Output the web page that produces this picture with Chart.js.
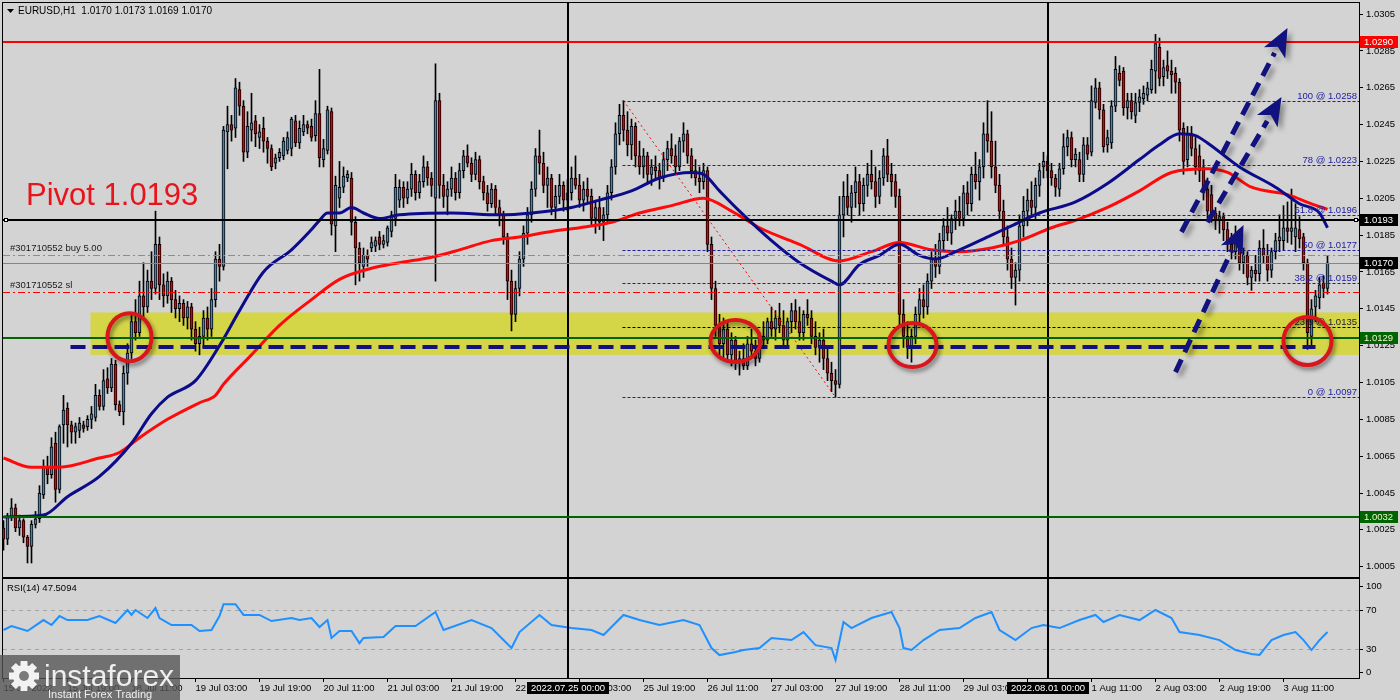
<!DOCTYPE html>
<html>
<head>
<meta charset="utf-8">
<title>EURUSD H1</title>
<script src="https://cdn.jsdelivr.net/npm/chart.js@4.4.0/dist/chart.umd.min.js"></script>
<style>
html, body { margin: 0; padding: 0; background: #d3d3d3; }
#wrap { position: relative; width: 1400px; height: 700px; overflow: hidden; }
#main { position: absolute; left: 0; top: 0; }
#rsi { position: absolute; left: 0; top: 570px; }
</style>
</head>
<body>
<div id="wrap">
  <canvas id="main" width="1400" height="578"></canvas>
  <canvas id="rsi" width="1400" height="130"></canvas>
</div>
<script>
// prices are in pips above 1.0000 (e.g. 170 = 1.0170), one candle per hour from 15 Jul 03:00
var OPEN = [
  26,20,32,37,26,30,21,16,28,31, 44,59,55,72,47,82,91,82,78,79,
  82,81,85,86,98,92,107,102,115,93, 89,110,121,138,132,152,146,160,156,180,
  158,152,160,150,145,148,140,146,134,126, 130,140,134,150,172,168,241,245,243,264,
  255,230,242,247,238,243,236,232,224,227, 228,231,232,247,235,241,245,244,239,251,
  226,231,252,190,205,211,216,216,192,178, 168,174,178,179,184,180,181,187,194,204,
  211,205,210,218,208,214,222,216,205,258, 212,206,210,216,208,220,228,224,218,226,
  214,208,202,210,200,196,184,160,142,156, 172,186,196,210,228,224,212,216,200,206,
  212,204,208,216,212,204,210,206,194,200, 192,196,208,222,240,250,242,234,244,228,
  222,228,218,222,220,216,226,232,228,222, 236,240,228,220,216,214,220,180,156,136,
  126,134,120,128,116,118,114,126,122,118, 130,128,138,134,140,136,128,138,144,138,
  132,142,140,130,124,128,118,110,106,104, 196,206,200,208,214,202,212,218,214,206,
  216,228,218,214,206,142,130,124,130,142, 150,146,160,172,168,182,190,186,194,198,
  194,208,202,218,214,222,240,236,222,212, 198,184,172,162,166,190,198,204,200,212,
  222,225,220,216,210,221,233,238,226,226, 218,234,230,257,265,253,234,235,255,273,
  274,254,258,250,257,259,261,264,274,287, 271,277,274,273,268,243,226,240,232,228,
  222,210,207,197,193,195,188,180,176,184, 170,174,162,166,164,178,174,166,176,182,
  182,189,187,184,188,184,170,130,146,151, 159,156
];
var HIGH = [
  30,34,42,39,33,31,22,30,35,49, 63,65,75,78,82,98,94,84,83,86,
  84,87,92,104,101,112,113,118,117,95, 114,126,142,150,160,170,166,176,198,184,
  164,165,162,155,152,150,149,148,138,135, 144,146,156,176,180,244,255,250,270,268,
  258,252,262,250,245,249,238,234,229,232, 238,241,249,250,247,250,247,248,258,275,
  237,255,254,217,225,222,220,219,195,181, 178,177,184,184,187,185,190,198,218,215,
  214,214,224,220,218,228,225,219,278,262, 218,214,222,219,224,231,234,227,230,228,
  217,212,213,212,204,198,186,166,160,176, 190,200,214,232,242,230,222,218,212,218,
  214,215,222,228,218,214,216,210,204,206, 200,212,226,246,256,258,252,248,246,236,
  232,230,226,228,224,230,236,240,234,238, 246,242,232,226,222,224,222,184,160,142,
  140,138,132,130,122,126,130,134,128,132, 138,140,146,144,148,144,140,148,150,146,
  144,150,144,138,132,134,124,116,112,206, 214,218,212,222,218,216,224,231,222,220,
  232,237,224,218,210,150,138,134,146,156, 158,164,176,180,186,194,200,196,204,206,
  212,214,222,230,226,246,258,252,236,218, 204,190,178,170,196,206,210,214,216,224,
  230,228,224,218,224,240,242,241,232,230, 238,238,266,270,268,256,242,258,282,277,
  276,262,262,262,264,266,268,280,294,292, 280,285,280,276,270,246,244,244,238,234,
  226,216,212,200,198,197,192,186,190,188, 178,176,168,174,182,188,180,178,186,196,
  201,203,210,202,195,186,172,150,155,162, 163,174
];
var LOW = [
  14,17,30,24,22,18,7,7,26,29, 42,50,53,40,45,72,70,72,72,75,
  78,79,80,84,90,90,99,100,90,87, 82,104,118,128,130,140,143,150,153,150,
  146,148,143,140,138,136,134,128,122,120, 124,128,130,146,160,166,221,236,238,250,
  225,227,236,233,232,230,224,220,221,225, 226,229,228,233,232,239,240,236,236,222,
  222,229,185,176,200,208,214,185,158,160, 162,168,176,176,177,178,179,184,190,200,
  200,202,206,204,205,211,212,206,160,205, 200,196,206,204,205,216,222,214,215,210,
  204,198,200,196,190,180,150,133,138,152, 168,180,192,206,218,208,200,196,194,202,
  198,198,204,210,200,198,202,190,186,188, 182,192,204,218,234,236,228,226,222,218,
  216,214,212,216,210,214,220,224,218,220, 230,224,216,212,208,210,176,150,130,120,
  118,116,114,112,109,112,112,118,114,116, 124,126,130,128,132,124,124,132,134,128,
  128,136,126,120,116,112,106,100,97,102, 184,196,192,200,196,198,206,210,200,202,
  212,214,206,200,136,124,118,116,126,136, 140,142,156,162,164,176,182,180,188,190,
  190,196,198,210,204,216,230,216,208,194, 180,166,156,147,160,184,190,196,194,206,
  216,216,212,206,206,218,228,222,222,214, 214,226,228,254,248,230,230,232,252,266,
  250,248,248,246,252,256,258,262,262,266, 266,270,262,262,236,218,222,228,218,214,
  204,194,192,188,186,182,176,172,172,166, 164,158,155,160,160,170,160,162,172,176,
  177,181,180,176,178,166,123,124,138,145, 151,153
];
var CLOSE = [
  20,32,37,26,30,21,16,28,31,45, 59,55,70,47,81,90,82,78,81,83,
  80,85,88,98,92,106,102,115,93,89, 110,121,138,132,152,146,160,156,180,158,
  152,160,150,145,148,140,146,134,126,130, 140,134,150,172,168,242,245,242,265,255,
  230,244,246,240,241,236,232,222,227,230, 236,238,248,235,243,245,243,238,251,227,
  232,253,191,212,211,217,218,192,178,170, 174,172,181,182,180,182,189,196,211,211,
  205,210,218,208,214,222,216,212,258,212, 206,210,216,208,220,228,224,218,226,214,
  208,202,210,200,196,184,160,142,156,172, 186,196,210,228,224,212,216,200,206,212,
  204,208,216,212,204,210,206,194,200,192, 196,208,222,240,250,242,234,244,228,222,
  228,218,222,220,216,226,232,228,222,236, 240,228,220,216,214,220,180,156,136,126,
  134,120,128,116,118,114,126,122,118,130, 128,138,134,140,136,128,138,144,138,132,
  142,140,130,124,128,118,110,106,104,196, 206,200,208,214,202,212,218,214,206,216,
  228,218,214,206,142,130,124,130,142,150, 146,160,172,168,182,190,186,194,198,194,
  208,202,218,214,222,240,236,222,212,198, 184,172,162,166,190,198,204,200,212,220,
  225,220,216,211,221,233,238,226,229,218, 234,229,258,265,253,233,238,255,275,269,
  254,258,252,257,260,262,265,275,289,270, 276,274,272,268,242,225,240,232,222,220,
  208,198,197,193,195,188,180,176,184,170, 174,162,166,164,178,174,166,176,182,184,
  189,187,189,189,183,170,132,145,152,158, 156,170
];

// moving averages (bar index, pips)
var BLUE_X = [0,10,16,24,32,37,41,48,54,59,65,72,77,79,81,84,87,90,94,99,112,124,132,142,149,157,164,172,175,179,184,192,199,207,209,214,219,224,229,233,239,247,252,259,268,276,284,289,294,298,301,309,318,324,329,331];
var BLUE_Y = [32,33,43,54,72,88,97,106,125,144,165,177,188,193,197,197,200,197,194,196,197,196,197,200,204,209,216,219,218,209,198,182,170,160,158,169,174,180,174,172,177,185,190,197,203,213,226,234,240,239,235,222,211,202,197,189];
var RED_X = [0,7,14,24,29,34,41,49,53,55,62,69,77,84,92,99,107,114,122,129,137,144,152,159,167,175,182,189,199,209,217,224,232,239,247,254,262,268,276,284,292,301,306,312,321,327,331];
var RED_Y = [64,59,59,64,67,75,85,94,98,104,120,136,150,161,167,170,173,177,182,184,187,189,192,197,201,205,198,189,180,171,176,181,177,176,178,182,189,193,200,209,219,221,219,211,207,202,199];

// RSI(14)
var RSI_X = [0,2,6,10,12,14,16,21,24,28,31,32,33,36,38,39,42,47,49,52,54,55,58,60,64,67,72,74,77,79,81,82,84,87,89,90,95,98,103,108,110,117,122,125,127,129,134,137,142,147,150,155,159,164,170,174,177,179,183,185,189,192,197,200,203,207,208,210,212,217,222,224,225,227,230,234,239,243,247,249,253,257,260,264,269,273,275,279,284,288,292,294,299,304,308,312,314,317,320,323,325,327,329,331];
var RSI_V = [49.5,53.6,48.5,59.7,54.6,63.8,59.7,59.7,63.8,56.7,70,64.9,70,61.8,72,61.8,54.6,54.6,48.5,49.5,63.8,76,76,65,65,58.7,61.8,59.7,61.8,52.6,59.7,41.3,48.5,48.5,36,41.3,42.3,53.6,53.6,68,49.5,59.7,51.5,39.2,31,47.4,64.9,54.6,51.5,49.5,44.4,64.9,59.7,54.6,59.7,54.6,31,23.8,27,29,31,41.3,39.2,47.4,34,31,18.7,57.7,51.5,61.8,68,51.5,31,29,39.2,49.5,51.5,61.8,68,49.5,39.2,51.5,54.6,51.5,59.7,64.9,57.7,64.9,59.7,70,61.8,47.4,44.4,39.2,29,25,24,39.2,44.4,47.4,39.2,29,39.2,47.5];
var RSI_LAST = '47.5094';

// axis ticks
var PRICE_TICKS = [5,25,45,65,85,105,125,145,165,185,205,225,245,265,285,305];
var TIME_TICK_POS = [0,16,32,48,64,80,96,112,128,144,160,176,192,208,224,240,256,272,288,304,320];
var TIME_TICK_LABELS = ['15 Jul 2022','15 Jul 19:00','18 Jul 11:00','19 Jul 03:00','19 Jul 19:00','20 Jul 11:00','21 Jul 03:00','21 Jul 19:00','22 Jul 11:00','25 Jul 03:00','25 Jul 19:00','26 Jul 11:00','27 Jul 03:00','27 Jul 19:00','28 Jul 11:00','29 Jul 03:00','29 Jul 19:00','1 Aug 11:00','2 Aug 03:00','2 Aug 19:00','3 Aug 11:00'];
var RSI_TICKS = [0,30,70,100];

// chart objects
var VLINE_POS = [141, 261];
var VLINE_LABELS = ['2022.07.25 00:00', '2022.08.01 00:00'];
var FIB_NAMES = ['100','78','61.8','50','38.2','23.6','0'];
var FIB_PRICES = [258,223,196,177,159,135,97];
var FIB_START = 154.75;
var FIB_DIAG = [[155,258],[208,97]];
var BAND = [120, 143];
var BAND_START = 21.75;
var SUPPORT_LINE = [124, 16.75, 328];
var CIRCLES = [[31.5,129.6],[183,127.5],[227.25,125.3],[326,127.5]];
var ARROWS = [[293,110.6,310,190.5],[301,192,319.5,260],[294.5,186.7,321,297.4]];
var BUY_LEVEL = 174.2;
var SL_LEVEL = 154.1;
var LAST_PRICE = 170;
var PIVOT = 193;
var RES_LEVEL = 290;
var SUP_LEVELS = [129, 32];

var FONT = 'Liberation Sans';
Chart.defaults.font.family = FONT;
Chart.defaults.font.size = 9.5;
Chart.defaults.color = '#000';

function px(v) { return (1 + v / 10000).toFixed(4); }

function hline(ctx, y, x0, x1, color, w, dash) {
  ctx.save();
  ctx.strokeStyle = color;
  ctx.lineWidth = w;
  ctx.setLineDash(dash || []);
  var yy = w % 2 ? Math.round(y) + 0.5 : Math.round(y);
  ctx.beginPath(); ctx.moveTo(x0, yy); ctx.lineTo(x1, yy); ctx.stroke();
  ctx.restore();
}

function tag(ctx, y, bg, fg, text) {
  ctx.fillStyle = bg;
  ctx.fillRect(1360, Math.round(y) - 6, 38, 12);
  ctx.fillStyle = fg;
  ctx.font = '9.5px ' + FONT;
  ctx.textAlign = 'left';
  ctx.textBaseline = 'middle';
  ctx.fillText(text, 1364, Math.round(y) + 0.5);
}

var mainPlugin = {
  id: 'mainDeco',
  beforeDatasetsDraw: function (chart) {
    var ctx = chart.ctx, a = chart.chartArea, x = chart.scales.x, y = chart.scales.y;
    ctx.save();
    ctx.fillStyle = '#d5d548';
    var xs = x.getPixelForValue(BAND_START);
    var yt = y.getPixelForValue(BAND[1]), yb = y.getPixelForValue(BAND[0]);
    ctx.fillRect(xs, yt, a.right - xs, yb - yt);
    ctx.restore();
  },
  afterDatasetsDraw: function (chart) {
    var ctx = chart.ctx, a = chart.chartArea, x = chart.scales.x, y = chart.scales.y;
    var X = function (v) { return x.getPixelForValue(v); };
    var Y = function (v) { return y.getPixelForValue(v); };

    // vertical separators
    ctx.save();
    ctx.fillStyle = '#000';
    VLINE_POS.forEach(function (p) { ctx.fillRect(Math.round(X(p)) - 1, a.top, 2, a.bottom - a.top); });
    ctx.restore();

    // horizontal levels
    hline(ctx, Y(RES_LEVEL), a.left, a.right, '#ff0000', 2);
    hline(ctx, Y(PIVOT), a.left, a.right, '#000000', 2);
    hline(ctx, Y(BUY_LEVEL), a.left, a.right, '#32cd32', 1, [7, 3, 2, 3]);
    hline(ctx, Y(LAST_PRICE), a.left, a.right, '#778899', 1);
    hline(ctx, Y(SL_LEVEL), a.left, a.right, '#ff0000', 1, [7, 3, 2, 3]);
    SUP_LEVELS.forEach(function (s) { hline(ctx, Y(s), a.left, a.right, '#006400', 2); });

    // fibonacci
    var fx = X(FIB_START);
    ctx.save();
    ctx.strokeStyle = '#ff0000'; ctx.lineWidth = 1; ctx.setLineDash([2, 3]);
    ctx.beginPath(); ctx.moveTo(X(FIB_DIAG[0][0]), Y(FIB_DIAG[0][1])); ctx.lineTo(X(FIB_DIAG[1][0]), Y(FIB_DIAG[1][1])); ctx.stroke();
    ctx.restore();
    FIB_PRICES.forEach(function (p, j) {
      var c = FIB_NAMES[j] === '23.6' ? '#000000' : '#1c1ca0';
      hline(ctx, Y(p), fx, a.right, c, 1, [3, 2]);
    });
    ctx.save();
    ctx.font = '9.5px ' + FONT; ctx.textAlign = 'right'; ctx.textBaseline = 'alphabetic';
    FIB_PRICES.forEach(function (p, j) {
      ctx.fillStyle = FIB_NAMES[j] === '23.6' ? '#222' : '#1c1ca0';
      ctx.fillText(FIB_NAMES[j] + ' @ ' + px(p), a.right - 2, Math.round(Y(p)) - 2);
    });
    ctx.restore();

    // dashed support line
    hline(ctx, Y(SUPPORT_LINE[0]), X(SUPPORT_LINE[1]), X(SUPPORT_LINE[2]), '#10107e', 4, [15, 7]);

    // circles
    ctx.save();
    ctx.shadowColor = 'rgba(0,0,0,0.45)'; ctx.shadowBlur = 4; ctx.shadowOffsetX = 2; ctx.shadowOffsetY = 3;
    ctx.strokeStyle = '#d8161b'; ctx.lineWidth = 4;
    var radii = [[22, 24], [25, 21], [24, 22], [24, 24]];
    CIRCLES.forEach(function (c, j) {
      ctx.beginPath();
      ctx.ellipse(X(c[0]), Y(c[1]), radii[j][0], radii[j][1], 0, 0, Math.PI * 2);
      ctx.stroke();
    });
    ctx.restore();

    // arrows
    ctx.save();
    ctx.shadowColor = 'rgba(0,0,0,0.35)'; ctx.shadowBlur = 5; ctx.shadowOffsetX = 4; ctx.shadowOffsetY = 4;
    ctx.strokeStyle = '#12127e'; ctx.fillStyle = '#12127e'; ctx.lineWidth = 5;
    ARROWS.forEach(function (ar) {
      var x0 = X(ar[0]), y0 = Y(ar[1]), x1 = X(ar[2]), y1 = Y(ar[3]);
      var ang = Math.atan2(y1 - y0, x1 - x0);
      var hl = 28, hw = 12;
      var bx = x1 - hl * Math.cos(ang), by = y1 - hl * Math.sin(ang);
      ctx.setLineDash([14, 8]);
      ctx.beginPath(); ctx.moveTo(x0, y0); ctx.lineTo(bx, by); ctx.stroke();
      ctx.setLineDash([]);
      ctx.beginPath();
      ctx.moveTo(x1, y1);
      ctx.lineTo(bx + hw * Math.sin(ang), by - hw * Math.cos(ang));
      ctx.lineTo(bx + 7 * Math.cos(ang), by + 7 * Math.sin(ang));
      ctx.lineTo(bx - hw * Math.sin(ang), by + hw * Math.cos(ang));
      ctx.closePath(); ctx.fill();
    });
    ctx.restore();

    // texts
    ctx.save();
    ctx.fillStyle = '#e8141b'; ctx.font = '31px ' + FONT; ctx.textBaseline = 'middle'; ctx.textAlign = 'left';
    ctx.fillText('Pivot ' + px(PIVOT), 26, 196);
    ctx.fillStyle = '#1a1a1a'; ctx.font = '9.5px ' + FONT; ctx.textBaseline = 'alphabetic';
    ctx.fillText('#301710552 buy 5.00', 10, Math.round(Y(BUY_LEVEL)) - 4);
    ctx.fillText('#301710552 sl', 10, Math.round(Y(SL_LEVEL)) - 4);
    ctx.restore();

    // pivot end squares
    ctx.save();
    var py = Math.round(Y(PIVOT));
    [a.left + 1, a.right - 5].forEach(function (sx) {
      ctx.fillStyle = '#fff'; ctx.fillRect(sx, py - 2, 4, 4);
      ctx.strokeStyle = '#000'; ctx.lineWidth = 1; ctx.strokeRect(sx + 0.5, py - 1.5, 3, 3);
    });
    ctx.restore();
  },
  afterDraw: function (chart) {
    var ctx = chart.ctx, a = chart.chartArea, y = chart.scales.y;
    ctx.save();
    tag(ctx, y.getPixelForValue(RES_LEVEL), '#ff0000', '#ffffff', px(RES_LEVEL));
    tag(ctx, y.getPixelForValue(PIVOT), '#000000', '#ffffff', px(PIVOT));
    tag(ctx, y.getPixelForValue(LAST_PRICE), '#000000', '#ffffff', px(LAST_PRICE));
    SUP_LEVELS.forEach(function (s) { tag(ctx, y.getPixelForValue(s), '#006400', '#f4f4d0', px(s)); });
    // frame
    ctx.strokeStyle = '#000'; ctx.lineWidth = 1;
    ctx.strokeRect(a.left - 0.5, a.top - 0.5, a.right - a.left + 1, a.bottom - a.top + 1);
    // header
    ctx.fillStyle = '#000';
    ctx.beginPath(); ctx.moveTo(7, 9); ctx.lineTo(14, 9); ctx.lineTo(10.5, 13); ctx.closePath(); ctx.fill();
    ctx.font = '10px ' + FONT; ctx.textBaseline = 'middle'; ctx.textAlign = 'left';
    ctx.fillText('EURUSD,H1  1.0170 1.0173 1.0169 1.0170', 18, 11);
    ctx.restore();
  }
};

var idx = OPEN.map(function (_, i) { return i; });
var bodyColors = idx.map(function (i) { return CLOSE[i] >= OPEN[i] ? '#4682b4' : '#e00000'; });

new Chart(document.getElementById('main'), {
  type: 'bar',
  data: {
    datasets: [
      { type: 'line', label: 'MA fast', data: BLUE_X.map(function (v, j) { return { x: v, y: BLUE_Y[j] }; }),
        borderColor: '#0c0c8a', borderWidth: 3, pointRadius: 0, cubicInterpolationMode: 'monotone', order: 0 },
      { type: 'line', label: 'MA slow', data: RED_X.map(function (v, j) { return { x: v, y: RED_Y[j] }; }),
        borderColor: '#ff0a0a', borderWidth: 3, pointRadius: 0, cubicInterpolationMode: 'monotone', order: 0 },
      { label: 'bodies', data: idx.map(function (i) { return { x: i, y: [OPEN[i], CLOSE[i]] }; }),
        backgroundColor: bodyColors, borderColor: '#000', borderWidth: 1, borderSkipped: false,
        barThickness: 3, grouped: false, minBarLength: 1, order: 1 },
      { label: 'wicks', data: idx.map(function (i) { return { x: i, y: [LOW[i], HIGH[i]] }; }),
        backgroundColor: '#000', barThickness: 1, grouped: false, order: 2 }
    ]
  },
  options: {
    responsive: false, animation: false, events: [],
    layout: { padding: { left: 3, top: 3, right: 0, bottom: 1 } },
    plugins: { legend: { display: false }, tooltip: { enabled: false } },
    scales: {
      x: { type: 'linear', display: false, offset: false, min: -0.125, max: 338.875 },
      y: {
        position: 'right', min: -0.6, max: 311.0,
        afterBuildTicks: function (s) { s.ticks = PRICE_TICKS.map(function (v) { return { value: v }; }); },
        afterFit: function (s) { s.width = 41; s.paddingTop = 0; s.paddingBottom = 0; },
        ticks: { callback: function (v) { return px(v); }, padding: 3, autoSkip: false, color: '#000' },
        grid: { drawOnChartArea: false, drawTicks: true, tickLength: 4, color: '#000' },
        border: { display: false }
      }
    }
  },
  plugins: [mainPlugin]
});

function gear(ctx, cx, cy, r) {
  ctx.save();
  ctx.fillStyle = '#f2f2f2';
  ctx.beginPath();
  for (var t = 0; t < 8; t++) {
    ctx.save(); ctx.translate(cx, cy); ctx.rotate(t * Math.PI / 4);
    ctx.rect(-3.5, -r - 4, 7, 8);
    ctx.restore();
  }
  ctx.fill();
  ctx.beginPath(); ctx.arc(cx, cy, r, 0, Math.PI * 2); ctx.fill();
  ctx.fillStyle = '#7a7a7a';
  ctx.beginPath(); ctx.arc(cx, cy, r * 0.45, 0, Math.PI * 2); ctx.fill();
  ctx.restore();
}

var rsiPlugin = {
  id: 'rsiDeco',
  beforeDatasetsDraw: function (chart) {
    var ctx = chart.ctx, a = chart.chartArea, y = chart.scales.y;
    [30, 70].forEach(function (v) { hline(ctx, y.getPixelForValue(v), a.left, a.right, '#a4a4a4', 1, [4, 4]); });
  },
  afterDraw: function (chart) {
    var ctx = chart.ctx, a = chart.chartArea, x = chart.scales.x, y = chart.scales.y;
    ctx.save();
    ctx.fillStyle = '#000';
    VLINE_POS.forEach(function (p) { ctx.fillRect(Math.round(x.getPixelForValue(p)) - 1, a.top, 2, a.bottom - a.top); });
    ctx.strokeStyle = '#000'; ctx.lineWidth = 1;
    ctx.strokeRect(a.left - 0.5, a.top - 0.5, a.right - a.left + 1, a.bottom - a.top + 1);
    // level labels on the right
    ctx.font = '9.5px ' + FONT; ctx.textBaseline = 'middle'; ctx.textAlign = 'left'; ctx.fillStyle = '#000';
    RSI_TICKS.forEach(function (v) {
      var yy = Math.min(Math.max(y.getPixelForValue(v), a.top + 7), a.bottom - 6);
      ctx.fillRect(a.right + 1, Math.round(yy), 3, 1);
      ctx.fillText(String(v), a.right + 7, yy);
    });
    ctx.fillText('RSI(14) ' + RSI_LAST, 7, a.top + 9);
    // date boxes for the vertical lines
    VLINE_POS.forEach(function (p, j) {
      var cx = Math.round(x.getPixelForValue(p));
      var w = ctx.measureText(VLINE_LABELS[j]).width + 8;
      ctx.fillStyle = '#000';
      ctx.fillRect(cx - w / 2, a.bottom + 4, w, 12);
      ctx.fillStyle = '#fff'; ctx.textAlign = 'center';
      ctx.fillText(VLINE_LABELS[j], cx, a.bottom + 10.5);
      ctx.textAlign = 'left';
    });
    // logo
    ctx.fillStyle = 'rgba(85,85,85,0.78)';
    ctx.fillRect(0, 85, 180, 45);
    gear(ctx, 24, 106, 11);
    ctx.fillStyle = '#efefef';
    ctx.font = '30px ' + FONT; ctx.textBaseline = 'alphabetic';
    ctx.fillText('instaforex', 44, 116);
    ctx.font = '11px ' + FONT;
    ctx.fillText('Instant Forex Trading', 48, 128);
    ctx.restore();
  }
};

new Chart(document.getElementById('rsi'), {
  type: 'line',
  data: {
    datasets: [{ label: 'RSI(14)', data: RSI_X.map(function (v, j) { return { x: v, y: RSI_V[j] }; }),
      borderColor: '#1e90ff', borderWidth: 2, pointRadius: 0, tension: 0 }]
  },
  options: {
    responsive: false, animation: false, events: [],
    layout: { padding: { left: 3, top: 9, right: 41, bottom: 0 } },
    plugins: { legend: { display: false }, tooltip: { enabled: false } },
    scales: {
      x: {
        type: 'linear', min: -0.125, max: 338.875, offset: false,
        afterBuildTicks: function (s) { s.ticks = TIME_TICK_POS.map(function (v) { return { value: v }; }); },
        afterFit: function (s) { s.height = 22; s.paddingLeft = 0; s.paddingRight = 0; },
        ticks: {
          align: 'start', maxRotation: 0, autoSkip: false, padding: 1, color: '#000',
          callback: function (v) { return TIME_TICK_LABELS[TIME_TICK_POS.indexOf(v)]; }
        },
        grid: { drawOnChartArea: false, drawTicks: true, tickLength: 4, color: '#000' },
        border: { display: false }
      },
      y: { display: false, min: 0.3, max: 101.8 }
    }
  },
  plugins: [rsiPlugin]
});
</script>
</body>
</html>
